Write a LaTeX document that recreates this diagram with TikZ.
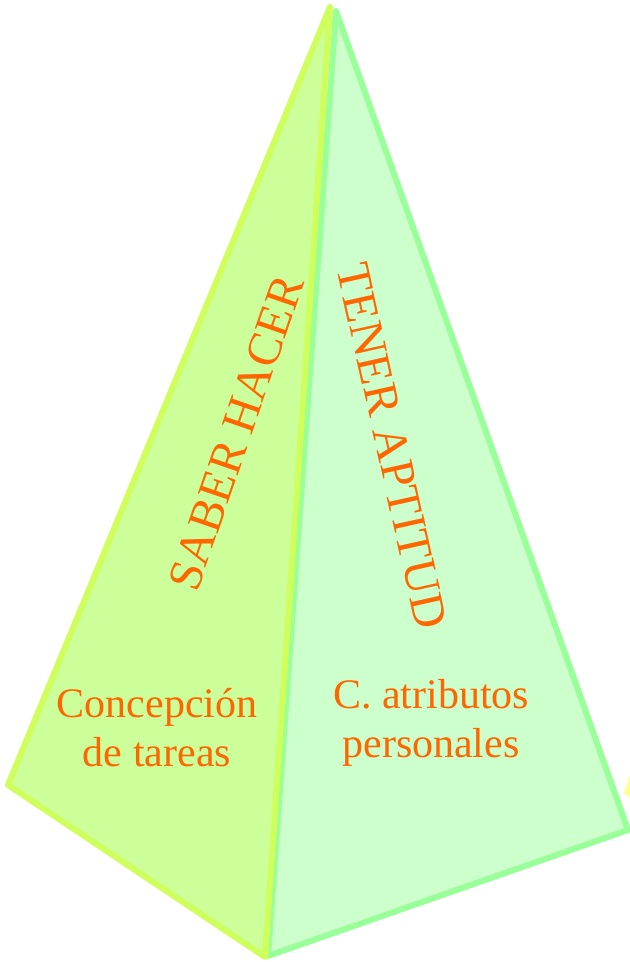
\documentclass[tikz,border=0pt]{standalone}
\usepackage{fontspec}
\setmainfont{Liberation Serif}
\definecolor{leftfill}{RGB}{204,255,153}
\definecolor{leftedge}{RGB}{206,255,90}
\definecolor{rightfill}{RGB}{204,255,204}
\definecolor{rightedge}{RGB}{153,255,153}
\definecolor{spot}{RGB}{255,255,140}
\definecolor{labelorange}{RGB}{255,102,0}
\tikzset{every picture/.style={line width=0.75pt}}
\tikzset{lbl/.style={color=labelorange, inner sep=0pt, align=center, font=\fontsize{31.5}{36.75}\selectfont}}
\tikzset{sidelbl/.style={color=labelorange, inner sep=0pt, font=\fontsize{36}{42}\selectfont}}

\begin{document}
\begin{tikzpicture}[x=0.75pt,y=0.75pt,yscale=-1,xscale=1]
\useasboundingbox (0,0) rectangle (630,962);

%Shape: small spot at the right border
\fill [spot] (630,775) -- (624,793) -- (630,798) -- cycle ;
%Shape: right face
\draw [color=rightedge, fill=rightfill, line width=4.5pt, line join=round] (336,11) -- (628,830) -- (268,956) -- cycle ;
%Shape: left face
\draw [color=leftedge, fill=leftfill, line width=4.5pt, line join=round] (330,7) -- (8,785) -- (265,957) -- cycle ;

% Text Node
\draw (236,433) node [sidelbl, rotate=71] (saber) {SABER HACER};
% Text Node
\draw (392,446) node [sidelbl, rotate=-77.5] (tener) {TENER APTITUD};
% Text Node
\draw (157,728) node [lbl] (concep) {Concepción\\de tareas};
% Text Node
\draw (431,723) node [lbl] (atrib) {C. atributos\\personales};

\end{tikzpicture}
\end{document}
